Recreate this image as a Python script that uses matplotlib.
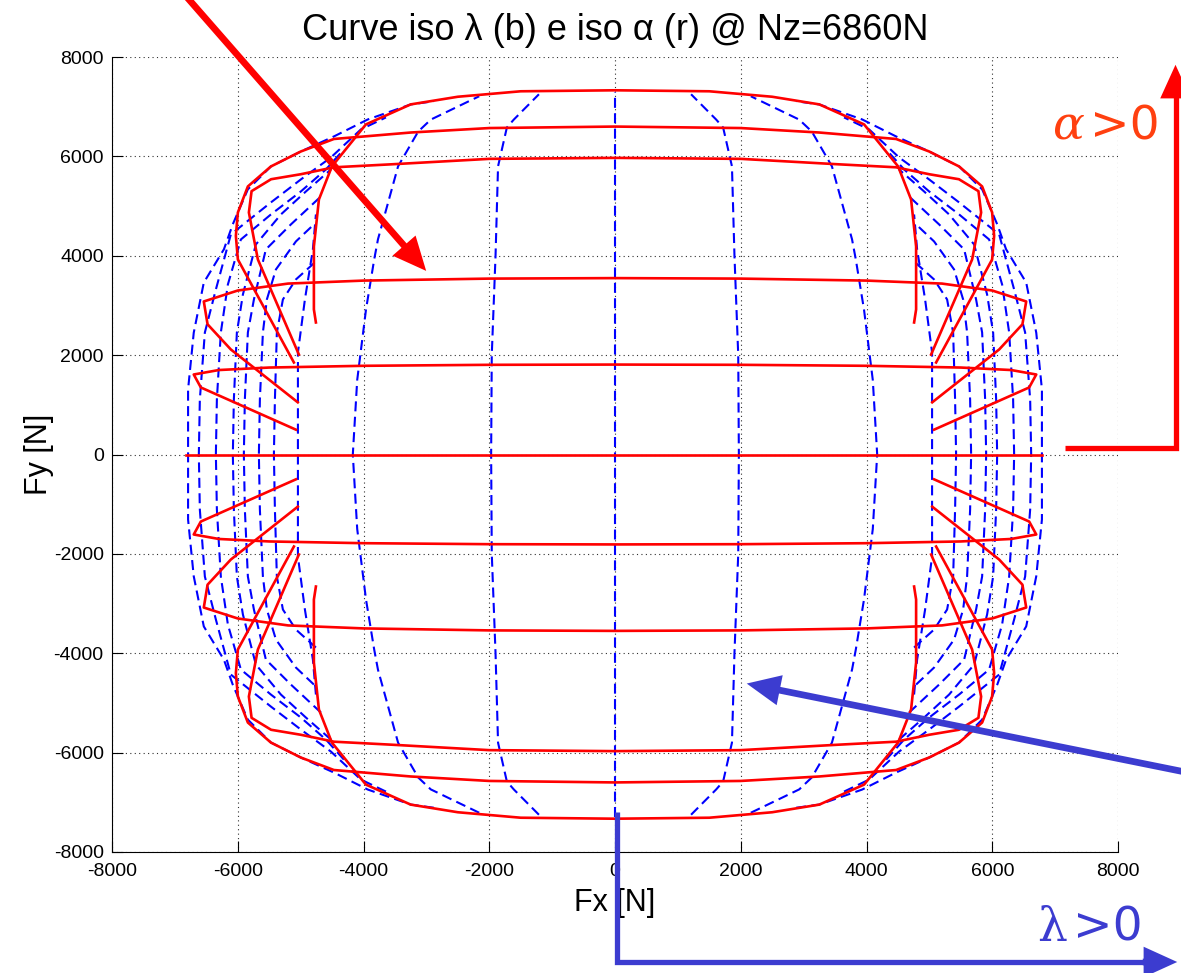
import matplotlib
matplotlib.use("Agg")
import matplotlib.pyplot as plt
from matplotlib.patches import FancyArrowPatch
from matplotlib.lines import Line2D

plt.rcParams['font.family'] = ['Liberation Sans', 'DejaVu Sans']
plt.rcParams['axes.unicode_minus'] = False

# ---------------- data ----------------
# iso-alpha curves (red, solid): each runs from the left end through Fx=0 to the right end
red_a0_fx = [-6820, 6790]
red_a0_fy = [0, 0]

red_up1_fx = [-5075, -6587, -6700, -6300, -5500, -4000, -2000, 0, 2000, 4000, 5500, 6300, 6700, 6587, 5075]
red_up1_fy = [500, 1349, 1610, 1700, 1750, 1785, 1805, 1810, 1805, 1785, 1750, 1700, 1610, 1349, 500]
red_dn1_fx = [-5075, -6587, -6700, -6300, -5500, -4000, -2000, 0, 2000, 4000, 5500, 6300, 6700, 6587, 5075]
red_dn1_fy = [-500, -1349, -1610, -1700, -1750, -1785, -1805, -1810, -1805, -1785, -1750, -1700, -1610, -1349, -500]

red_up2_fx = [-5045, -6110, -6480, -6540, -6000, -5200, -4000, -2000, 0, 2000, 4000, 5200, 6000, 6540, 6480, 6110, 5045]
red_up2_fy = [1050, 2114, 2620, 3080, 3300, 3440, 3500, 3540, 3550, 3540, 3500, 3440, 3300, 3080, 2620, 2114, 1050]
red_dn2_fx = [-5045, -6110, -6480, -6540, -6000, -5200, -4000, -2000, 0, 2000, 4000, 5200, 6000, 6540, 6480, 6110, 5045]
red_dn2_fy = [-1050, -2114, -2620, -3080, -3300, -3440, -3500, -3540, -3550, -3540, -3500, -3440, -3300, -3080, -2620, -2114, -1050]

red_up4_fx = [-5028, -5680, -5823, -5780, -5470, -5000, -4470, -3560, -2000, 0, 2000, 3560, 4470, 5000, 5470, 5780, 5823, 5680, 5028]
red_up4_fy = [2013, 3925, 4871, 5300, 5540, 5640, 5780, 5840, 5950, 5970, 5950, 5840, 5780, 5640, 5540, 5300, 4871, 3925, 2013]
red_dn4_fx = [-5028, -5680, -5823, -5780, -5470, -5000, -4470, -3560, -2000, 0, 2000, 3560, 4470, 5000, 5470, 5780, 5823, 5680, 5028]
red_dn4_fy = [-2013, -3925, -4871, -5300, -5540, -5640, -5780, -5840, -5950, -5970, -5950, -5840, -5780, -5640, -5540, -5300, -4871, -3925, -2013]

red_up6_fx = [-5107, -5998, -6030, -5998, -5839, -5473, -4996, -4471, -4000, -3250, -2000, 0, 2000, 3250, 4000, 4471, 4996, 5473, 5839, 5998, 6030, 5998, 5107]
red_up6_fy = [1852, 3925, 4400, 4871, 5395, 5797, 6099, 6350, 6400, 6480, 6570, 6600, 6570, 6480, 6400, 6350, 6099, 5797, 5395, 4871, 4400, 3925, 1852]
red_dn6_fx = [-5107, -5998, -6030, -5998, -5839, -5473, -4996, -4471, -4000, -3250, -2000, 0, 2000, 3250, 4000, 4471, 4996, 5473, 5839, 5998, 6030, 5998, 5107]
red_dn6_fy = [-1852, -3925, -4400, -4871, -5395, -5797, -6099, -6350, -6400, -6480, -6570, -6600, -6570, -6480, -6400, -6350, -6099, -5797, -5395, -4871, -4400, -3925, -1852]

red_up8_fx = [-4757, -4789, -4789, -4709, -4503, -3962, -3250, -2500, -1500, 0, 1500, 2500, 3250, 3962, 4503, 4709, 4789, 4789, 4757]
red_up8_fy = [2657, 2919, 4187, 5133, 5797, 6643, 7046, 7200, 7310, 7330, 7310, 7200, 7046, 6643, 5797, 5133, 4187, 2919, 2657]
red_dn8_fx = [-4757, -4789, -4789, -4709, -4503, -3962, -3250, -2500, -1500, 0, 1500, 2500, 3250, 3962, 4503, 4709, 4789, 4789, 4757]
red_dn8_fy = [-2657, -2919, -4187, -5133, -5797, -6643, -7046, -7200, -7310, -7330, -7310, -7200, -7046, -6643, -5797, -5133, -4187, -2919, -2657]

# iso-lambda curves (blue, dashed): each runs from the bottom end to the top end
blue_0_fx = [0, 0]
blue_0_fy = [-7300, 7300]

blue_r1_fx = [1210, 1610, 1720, 1860, 1900, 1960, 1970, 1960, 1900, 1860, 1720, 1610, 1210]
blue_l1_fx = [-1210, -1610, -1720, -1860, -1900, -1960, -1970, -1960, -1900, -1860, -1720, -1610, -1210]
blue_1_fy = [-7250, -6740, -6580, -5800, -4000, -2000, 0, 2000, 4000, 5800, 6580, 6740, 7250]

blue_r2_fx = [2160, 2930, 3130, 3450, 3770, 3830, 3960, 4100, 4170, 4100, 3960, 3830, 3770, 3450, 3130, 2930, 2160]
blue_l2_fx = [-2160, -2930, -3130, -3450, -3770, -3830, -3960, -4100, -4170, -4100, -3960, -3830, -3770, -3450, -3130, -2930, -2160]
blue_2_fy = [-7210, -6740, -6500, -5800, -4330, -3925, -2920, -1500, 0, 1500, 2920, 3925, 4330, 5800, 6500, 6740, 7210]

blue_r3_fx = [2880, 3246, 3930, 4471, 4996, 5473, 5840, 6080, 6220, 6540, 6700, 6790, 6790, 6790, 6700, 6540, 6220, 6080, 5840, 5473, 4996, 4471, 3930, 3246, 2880]
blue_l3_fx = [-2880, -3246, -3930, -4471, -4996, -5473, -5840, -6080, -6220, -6540, -6700, -6790, -6790, -6790, -6700, -6540, -6220, -6080, -5840, -5473, -4996, -4471, -3930, -3246, -2880]
blue_3_fy = [-7110, -7046, -6744, -6401, -6099, -5797, -5335, -4630, -4130, -3460, -2450, -1310, 0, 1310, 2450, 3460, 4130, 4630, 5335, 5797, 6099, 6401, 6744, 7046, 7110]

blue_r4_fx = [3643, 4041, 4518, 4996, 5473, 6110, 6348, 6523, 6603, 6619, 6603, 6523, 6348, 6110, 5473, 4996, 4518, 4041, 3643]
blue_l4_fx = [-3643, -4041, -4518, -4996, -5473, -6110, -6348, -6523, -6603, -6619, -6603, -6523, -6348, -6110, -5473, -4996, -4518, -4041, -3643]
blue_4_fy = [-6784, -6543, -5979, -5536, -5073, -4429, -3321, -2456, -1107, 0, 1107, 2456, 3321, 4429, 5073, 5536, 5979, 6543, 6784]

blue_r5_fx = [4312, 4598, 4996, 5473, 5950, 6157, 6269, 6332, 6348, 6332, 6269, 6157, 5950, 5473, 4996, 4598, 4312]
blue_l5_fx = [-4312, -4598, -4996, -5473, -5950, -6157, -6269, -6332, -6348, -6332, -6269, -6157, -5950, -5473, -4996, -4598, -4312]
blue_5_fy = [-6140, -5737, -5294, -4831, -4328, -3422, -2456, -1107, 0, 1107, 2456, 3422, 4328, 4831, 5294, 5737, 6140]

blue_r6_fx = [4518, 4916, 5314, 5712, 5918, 6014, 6062, 6078, 6062, 6014, 5918, 5712, 5314, 4916, 4518]
blue_l6_fx = [-4518, -4916, -5314, -5712, -5918, -6014, -6062, -6078, -6062, -6014, -5918, -5712, -5314, -4916, -4518]
blue_6_fy = [-5737, -5294, -4831, -4227, -3221, -2456, -1107, 0, 1107, 2456, 3221, 4227, 4831, 5294, 5737]

blue_r7_fx = [4677, 5155, 5553, 5743, 5839, 5887, 5903, 5887, 5839, 5743, 5553, 5155, 4677]
blue_l7_fx = [-4677, -5155, -5553, -5743, -5839, -5887, -5903, -5887, -5839, -5743, -5553, -5155, -4677]
blue_7_fy = [-5194, -4630, -4127, -3120, -2456, -1107, 0, 1107, 2456, 3120, 4127, 4630, 5194]

blue_r8_fx = [4789, 5075, 5393, 5537, 5600, 5648, 5664, 5648, 5600, 5537, 5393, 5075, 4789]
blue_l8_fx = [-4789, -5075, -5393, -5537, -5600, -5648, -5664, -5648, -5600, -5537, -5393, -5075, -4789]
blue_8_fy = [-4630, -4288, -3724, -3120, -2456, -1107, 0, 1107, 2456, 3120, 3724, 4288, 4630]

blue_r9_fx = [4757, 5075, 5282, 5378, 5409, 5425, 5409, 5378, 5282, 5075, 4757]
blue_l9_fx = [-4757, -5075, -5282, -5378, -5409, -5425, -5409, -5378, -5282, -5075, -4757]
blue_9_fy = [-3885, -3523, -3120, -2456, -1107, 0, 1107, 2456, 3120, 3523, 3885]

blue_r10_fx = [4757, 4805, 4932, 5043, 5043, 5043, 5043, 5043, 4932, 4805, 4757]
blue_l10_fx = [-4757, -4805, -4932, -5043, -5043, -5043, -5043, -5043, -4932, -4805, -4757]
blue_10_fy = [-4831, -4127, -3120, -2053, -1107, 0, 1107, 2053, 3120, 4127, 4831]

x_ticks = [-8000, -6000, -4000, -2000, 0, 2000, 4000, 6000, 8000]
y_ticks = [-8000, -6000, -4000, -2000, 0, 2000, 4000, 6000, 8000]

red_curves = [
    (red_a0_fx, red_a0_fy),
    (red_up1_fx, red_up1_fy), (red_dn1_fx, red_dn1_fy),
    (red_up2_fx, red_up2_fy), (red_dn2_fx, red_dn2_fy),
    (red_up4_fx, red_up4_fy), (red_dn4_fx, red_dn4_fy),
    (red_up6_fx, red_up6_fy), (red_dn6_fx, red_dn6_fy),
    (red_up8_fx, red_up8_fy), (red_dn8_fx, red_dn8_fy),
]
blue_curves = [
    (blue_0_fx, blue_0_fy),
    (blue_r1_fx, blue_1_fy), (blue_l1_fx, blue_1_fy),
    (blue_r2_fx, blue_2_fy), (blue_l2_fx, blue_2_fy),
    (blue_r3_fx, blue_3_fy), (blue_l3_fx, blue_3_fy),
    (blue_r4_fx, blue_4_fy), (blue_l4_fx, blue_4_fy),
    (blue_r5_fx, blue_5_fy), (blue_l5_fx, blue_5_fy),
    (blue_r6_fx, blue_6_fy), (blue_l6_fx, blue_6_fy),
    (blue_r7_fx, blue_7_fy), (blue_l7_fx, blue_7_fy),
    (blue_r8_fx, blue_8_fy), (blue_l8_fx, blue_8_fy),
    (blue_r9_fx, blue_9_fy), (blue_l9_fx, blue_9_fy),
    (blue_r10_fx, blue_10_fy), (blue_l10_fx, blue_10_fy),
]

# ---------------- figure ----------------
W, H = 1181, 973
fig = plt.figure(figsize=(W / 100, H / 100), dpi=100)
ax = fig.add_axes([112 / W, 1 - 852 / H, (1118 - 112) / W, (852 - 57) / H])

for fx, fy in blue_curves:
    ax.plot(fx, fy, color='#0000ff', lw=1.5, ls=(0, (4.8, 2.6)), zorder=2)
for fx, fy in red_curves:
    ax.plot(fx, fy, color='#ff0000', lw=1.9, ls='-', zorder=3)

ax.set_xlim(-8000, 8000)
ax.set_ylim(-8000, 8000)
ax.set_xticks(x_ticks)
ax.set_yticks(y_ticks)
ax.tick_params(direction='in', length=8, width=0.8, labelsize=14, top=False, right=False)
ax.tick_params(axis='x', pad=8)
ax.tick_params(axis='y', pad=6)
ax.grid(True, color='#303030', linestyle=(0, (1, 3)), linewidth=0.8)
ax.spines['top'].set_visible(False)
ax.spines['right'].set_visible(False)
ax.set_xlabel('Fx [N]', fontsize=22, labelpad=6)
ax.set_ylabel('Fy [N]', fontsize=22, labelpad=0)
ax.set_title('Curve iso λ (b) e iso α (r) @ Nz=6860N', fontsize=26, pad=12)


def fp(x, y):
    """figure-pixel coordinates from a top-left pixel position"""
    return (x, H - y)


RED = '#ff0000'
BLUE = '#3c3cd0'
head = 'simple,head_length=1.1,head_width=1.0,tail_width=0.22'

# red diagonal arrow
fig.patches.append(FancyArrowPatch(fp(185, -5), fp(428, 273), transform=None,
                                   arrowstyle=head, mutation_scale=22,
                                   color=RED, lw=0, zorder=10))
# red L arrow on right
fig.lines.append(Line2D([1065, 1175.5, 1175.5], [H - 448, H - 448, H - 85], transform=None,
                        color=RED, lw=3.8, solid_joinstyle='miter', solid_capstyle='butt'))
fig.patches.append(FancyArrowPatch(fp(1175.5, 100), fp(1175.5, 62), transform=None,
                                   arrowstyle=head, mutation_scale=22, color=RED, lw=0))
fig.text(1068 / W, 1 - 127 / H, 'α', color='#ff4010', fontsize=34, ha='center', va='center',
         family=['DejaVu Serif'], style='italic')
fig.text(1125 / W, 1 - 127 / H, '>0', color='#ff4010', fontsize=34, ha='center', va='center',
         family=['DejaVu Sans'])

# blue arrows
fig.patches.append(FancyArrowPatch(fp(1190, 773), fp(744, 683), transform=None,
                                   arrowstyle=head, mutation_scale=22,
                                   color=BLUE, lw=0, zorder=10))
fig.lines.append(Line2D([617, 617, 1160], [H - 812, H - 962, H - 962], transform=None,
                        color=BLUE, lw=3.8, solid_joinstyle='miter', solid_capstyle='butt'))
fig.patches.append(FancyArrowPatch(fp(1140, 962), fp(1180, 962), transform=None,
                                   arrowstyle=head, mutation_scale=22, color=BLUE, lw=0))
fig.text(1052 / W, 1 - 928 / H, 'λ', color=BLUE, fontsize=34, ha='center', va='center',
         family=['DejaVu Serif'])
fig.text(1108 / W, 1 - 928 / H, '>0', color=BLUE, fontsize=34, ha='center', va='center',
         family=['DejaVu Sans'])

fig.savefig('out.png', dpi=100)
